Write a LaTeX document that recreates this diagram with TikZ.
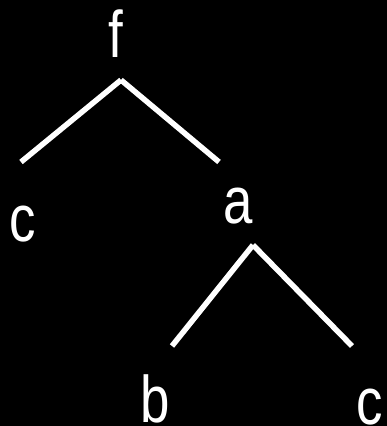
\documentclass[tikz,border=0pt]{standalone}
\usepackage{fontspec}
\setmainfont{Liberation Sans}
\begin{document}
\begin{tikzpicture}[x=1pt,y=1pt,
  lbl/.style={inner sep=0pt,text=white,font=\fontsize{66}{70}\selectfont,xscale=0.8},
  edge/.style={draw=white,line width=5.5pt,line cap=butt}]
\fill[black] (0,0) rectangle (387,426);
\useasboundingbox (0,0) rectangle (387,426);
\node[lbl] (f) at (116,392) {f};
\node[lbl] (c1) at (22.5,202) {c};
\node[lbl] (a) at (238,220) {a};
\node[lbl] (b) at (155.5,27) {b};
\node[lbl] (c2) at (370,19) {c};
\coordinate (fa) at (121,346);
\coordinate (fl) at (21,264);
\coordinate (fr) at (219,264);
\coordinate (aa) at (253,181);
\coordinate (al) at (172,80);
\coordinate (ar) at (352,80);
\draw[edge] (fa) -- (fl);
\draw[edge] (fa) -- (fr);
\draw[edge] (aa) -- (al);
\draw[edge] (aa) -- (ar);
\end{tikzpicture}
\end{document}
